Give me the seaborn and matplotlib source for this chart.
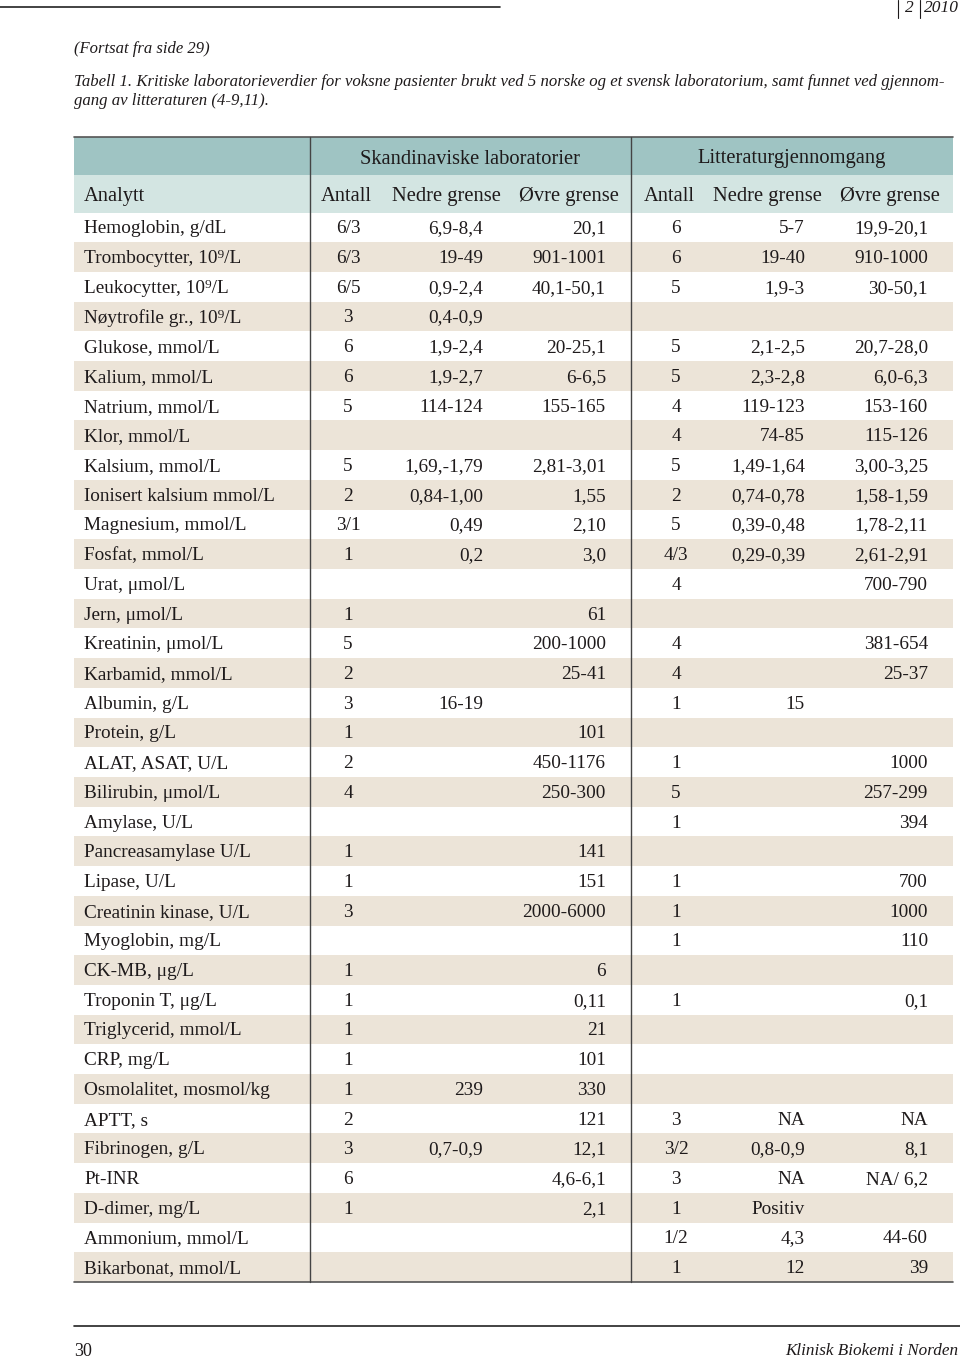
import numpy as np
import matplotlib
import matplotlib.pyplot as plt
import seaborn as sns
from matplotlib.colors import ListedColormap

matplotlib.use('Agg')
sns.set_style('white')
plt.rcParams['font.family'] = ['Liberation Serif', 'DejaVu Serif']

# Table content
analytes = [
    "Hemoglobin, g/dL", "Trombocytter, 10⁹/L", "Leukocytter, 10⁹/L", "Nøytrofile gr., 10⁹/L",
    "Glukose, mmol/L", "Kalium, mmol/L", "Natrium, mmol/L", "Klor, mmol/L",
    "Kalsium, mmol/L", "Ionisert kalsium mmol/L", "Magnesium, mmol/L", "Fosfat, mmol/L",
    "Urat, μmol/L", "Jern, μmol/L", "Kreatinin, μmol/L", "Karbamid, mmol/L",
    "Albumin, g/L", "Protein, g/L", "ALAT, ASAT, U/L", "Bilirubin, μmol/L",
    "Amylase, U/L", "Pancreasamylase U/L", "Lipase, U/L", "Creatinin kinase, U/L",
    "Myoglobin, mg/L", "CK-MB, μg/L", "Troponin T, μg/L", "Triglycerid, mmol/L",
    "CRP, mg/L", "Osmolalitet, mosmol/kg", "APTT, s", "Fibrinogen, g/L",
    "Pt-INR", "D-dimer, mg/L", "Ammonium, mmol/L", "Bikarbonat, mmol/L",
]
skand_antall = ["6/3", "6/3", "6/5", "3", "6", "6", "5", "", "5", "2", "3/1", "1",
                "", "1", "5", "2", "3", "1", "2", "4", "", "1", "1", "3",
                "", "1", "1", "1", "1", "1", "2", "3", "6", "1", "", ""]
skand_nedre = ["6,9-8,4", "19-49", "0,9-2,4", "0,4-0,9", "1,9-2,4", "1,9-2,7", "114-124", "",
               "1,69,-1,79", "0,84-1,00", "0,49", "0,2", "", "", "", "",
               "16-19", "", "", "", "", "", "", "",
               "", "", "", "", "", "239", "", "0,7-0,9", "", "", "", ""]
skand_ovre = ["20,1", "901-1001", "40,1-50,1", "", "20-25,1", "6-6,5", "155-165", "",
              "2,81-3,01", "1,55", "2,10", "3,0", "", "61", "200-1000", "25-41",
              "", "101", "450-1176", "250-300", "", "141", "151", "2000-6000",
              "", "6", "0,11", "21", "101", "330", "121", "12,1", "4,6-6,1", "2,1", "", ""]
lit_antall = ["6", "6", "5", "", "5", "5", "4", "4", "5", "2", "5", "4/3",
              "4", "", "4", "4", "1", "", "1", "5", "1", "", "1", "1",
              "1", "", "1", "", "", "", "3", "3/2", "3", "1", "1/2", "1"]
lit_nedre = ["5-7", "19-40", "1,9-3", "", "2,1-2,5", "2,3-2,8", "119-123", "74-85",
             "1,49-1,64", "0,74-0,78", "0,39-0,48", "0,29-0,39", "", "", "", "",
             "15", "", "", "", "", "", "", "",
             "", "", "", "", "", "", "NA", "0,8-0,9", "NA", "Positiv", "4,3", "12"]
lit_ovre = ["19,9-20,1", "910-1000", "30-50,1", "", "20,7-28,0", "6,0-6,3", "153-160", "115-126",
            "3,00-3,25", "1,58-1,59", "1,78-2,11", "2,61-2,91", "700-790", "", "381-654", "25-37",
            "", "", "1000", "257-299", "394", "", "700", "1000",
            "110", "", "0,1", "", "", "", "NA", "8,1", "NA/ 6,2", "", "44-60", "39"]

group_labels = ["Skandinaviske laboratorier", "Litteraturgjennomgang"]
col_labels = ["Analytt", "Antall", "Nedre grense", "Øvre grense",
              "Antall", "Nedre grense", "Øvre grense"]

# Layout (pixels)
W, H = 960, 1362
left, right = 74, 953
head_top, head_mid, body_top, body_bot = 137, 175, 212.5, 1282
sep1, sep2 = 310, 631
n = len(analytes)
row_h = (body_bot - body_top) / n

teal = '#9fc4c3'
teal_light = '#d3e5e2'
beige = '#ece4d8'
ink = '#1e1a1b'

fig = plt.figure(figsize=(W / 100, H / 100), dpi=100)

# striped body via seaborn heatmap
hax = fig.add_axes([left / W, 1 - body_bot / H, (right - left) / W, (body_bot - body_top) / H])
stripes = np.array([[i % 2] for i in range(n)])
sns.heatmap(stripes, cmap=ListedColormap(['white', beige]), cbar=False,
            xticklabels=False, yticklabels=False, ax=hax)
hax.axis('off')

ax = fig.add_axes([0, 0, 1, 1])
ax.set_xlim(0, W)
ax.set_ylim(H, 0)
ax.patch.set_alpha(0)
ax.axis('off')

# header backgrounds
ax.fill_between([left, right], head_top, head_mid, color=teal, lw=0)
ax.fill_between([left, right], head_mid, body_top, color=teal_light, lw=0)
ax.plot([left, right], [head_top, head_top], color='#555555', lw=1.2)
ax.plot([left, right], [body_bot, body_bot], color='#555555', lw=1.2)
for xs in (sep1, sep2):
    ax.plot([xs, xs], [head_top, body_bot], color='#444444', lw=1)

fs = 13.9
hfs = 14.8
hy1 = (head_top + head_mid) / 2 + 3
hy2 = (head_mid + body_top) / 2 + 3
ax.text((sep1 + sep2) / 2, hy1, group_labels[0], ha='center', va='center', fontsize=hfs, color=ink)
ax.text((sep2 + right) / 2, hy1, group_labels[1], ha='center', va='center', fontsize=hfs, color=ink)

head_x = [84, 346, 446, 569, 669, 767, 890]
for j, (lab, hx) in enumerate(zip(col_labels, head_x)):
    ax.text(hx, hy2, lab, ha='left' if j == 0 else 'center', va='center', fontsize=hfs, color=ink)

# body
cols = [
    (analytes, 84, 'left'),
    (skand_antall, 348, 'center'),
    (skand_nedre, 483, 'right'),
    (skand_ovre, 606, 'right'),
    (lit_antall, 676, 'center'),
    (lit_nedre, 805, 'right'),
    (lit_ovre, 928, 'right'),
]
for values, cx, align in cols:
    for i, v in enumerate(values):
        ax.text(cx, body_top + (i + 0.5) * row_h + 1.5, v, ha=align, va='center',
                fontsize=fs, color=ink)

# page furniture
ax.plot([0, 500], [7, 7], color='#222222', lw=1.2)
ax.text(959, 8, "2010", ha='right', va='center', fontsize=12.5, style='italic', color=ink)
ax.text(909, 8, "2", ha='center', va='center', fontsize=12.5, style='italic', color=ink)
ax.plot([898, 898], [0, 18], color=ink, lw=0.8)
ax.plot([920, 920], [0, 18], color=ink, lw=0.8)

ax.text(74, 49, "(Fortsat fra side 29)", ha='left', va='center', fontsize=12, style='italic', color=ink)
ax.text(74, 82, "Tabell 1. Kritiske laboratorieverdier for voksne pasienter brukt ved 5 norske og et svensk "
        "laboratorium, samt funnet ved gjennom-", ha='left', va='center', fontsize=12.1,
        style='italic', color=ink)
ax.text(74, 101, "gang av litteraturen (4-9,11).", ha='left', va='center', fontsize=12.1,
        style='italic', color=ink)

ax.plot([74, 960], [1326, 1326], color='#222222', lw=1.2)
ax.text(74, 1351, "30", ha='left', va='center', fontsize=13, color=ink)
ax.text(958, 1351, "Klinisk Biokemi i Norden", ha='right', va='center', fontsize=12.3,
        style='italic', color=ink)

fig.savefig('out.png', dpi=100)
plt.close(fig)
